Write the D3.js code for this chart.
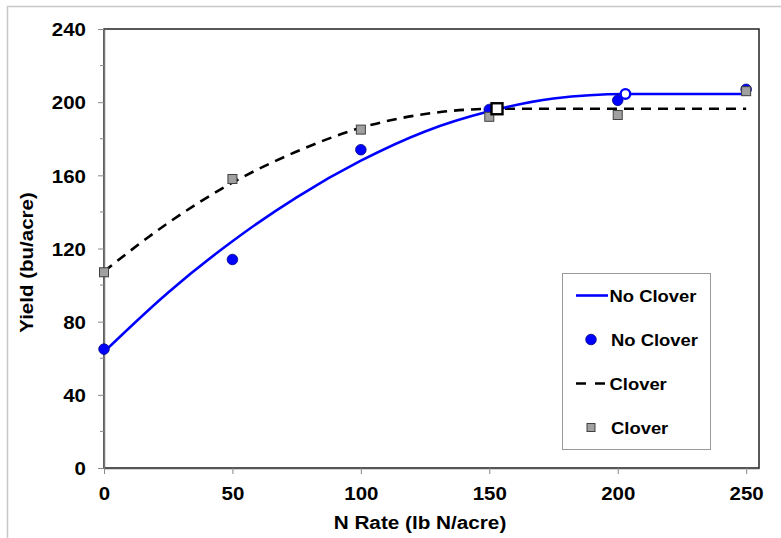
<!DOCTYPE html>
<meta charset="utf-8">
<style>
body { margin: 0; background: #fff; }
text { font-family: "Liberation Sans", Arial, sans-serif; font-weight: bold; fill: #000; }
</style>
<body>
<script src="https://d3js.org/d3.v7.min.js"></script>
<script>

// measured points
var nRates = [0, 50, 100, 150, 200, 250];
var noCloverYield = [65, 114, 174, 196, 201, 207];
var cloverYield = [107, 158, 185, 192, 193, 206];

// fitted curves
var noCloverCurveN = [0, 25, 50, 75, 100, 125, 150, 175, 203, 225, 250];
var noCloverCurveY = [63.5, 96, 124, 148, 168, 184, 195, 202, 204.5, 204.5, 204.5];
var cloverCurveN = [0, 25, 50, 75, 100, 125, 153, 200, 250];
var cloverCurveY = [107.5, 134, 156, 173, 186, 193.5, 196.4, 196.4, 196.4];

// join points (open markers)
var noCloverJoin = [203, 204.5];
var cloverJoin = [153, 196.4];

var xTicks = [0, 50, 100, 150, 200, 250];
var yTicks = [0, 40, 80, 120, 160, 200, 240];
var yMinor = [20, 60, 100, 140, 180, 220];

var legendLabels = ["No Clover", "No Clover", "Clover", "Clover"];

var W = 781, H = 538;
var plot = {left: 104, right: 759, top: 29, bottom: 468};

var svg = d3.select("body").append("svg")
	.attr("width", W)
	.attr("height", H);

// outer chart border
svg.append("rect")
	.attr("x", 7.5).attr("y", 6.5)
	.attr("width", W).attr("height", H)
	.attr("fill", "#fff")
	.attr("stroke", "#c8c8c8")
	.attr("stroke-width", 1.5);

var x = d3.scaleLinear().domain([0, 255]).range([plot.left, plot.right]);
var y = d3.scaleLinear().domain([0, 240]).range([plot.bottom, plot.top]);

// plot frame
svg.append("rect")
	.attr("x", plot.left).attr("y", plot.top)
	.attr("width", plot.right - plot.left)
	.attr("height", plot.bottom - plot.top)
	.attr("fill", "none")
	.attr("stroke", "#222")
	.attr("stroke-width", 1.5);

function stretchText(sel, sx) {
	sel.each(function() {
		var t = d3.select(this);
		var tx = +t.attr("data-x"), ty = +t.attr("data-y");
		t.attr("transform", "translate(" + tx + "," + ty + ") scale(" + sx + ",1)");
	});
}

// y axis
var yAxis = svg.append("g")
	.attr("transform", "translate(" + plot.left + ",0)")
	.call(d3.axisLeft(y).tickValues(yTicks).tickSize(6).tickSizeOuter(0));
yAxis.select(".domain").attr("stroke", "#777").attr("stroke-width", 1.5);
yAxis.selectAll(".tick line").attr("stroke", "#888");
yAxis.selectAll(".tick text")
	.attr("x", null).attr("dy", null)
	.attr("data-x", -18).attr("data-y", 6.7)
	.style("font-size", "18.6px")
	.call(stretchText, 1.1);

svg.append("g").selectAll("line")
	.data(yMinor)
	.enter().append("line")
		.attr("x1", plot.left - 4).attr("x2", plot.left)
		.attr("y1", function(d) { return y(d); })
		.attr("y2", function(d) { return y(d); })
		.attr("stroke", "#888");

// x axis
var xAxis = svg.append("g")
	.attr("transform", "translate(0," + plot.bottom + ")")
	.call(d3.axisBottom(x).tickValues(xTicks).tickSize(6).tickSizeOuter(0));
xAxis.select(".domain").attr("stroke", "#555").attr("stroke-width", 1.5);
xAxis.selectAll(".tick line").attr("stroke", "#888");
xAxis.selectAll(".tick text")
	.attr("y", null).attr("dy", null)
	.attr("data-x", 0).attr("data-y", 32)
	.attr("text-anchor", "middle")
	.style("font-size", "18.6px")
	.call(stretchText, 1.1);

// axis titles
svg.append("text")
	.attr("data-x", 420).attr("data-y", 529)
	.attr("text-anchor", "middle")
	.style("font-size", "18.5px")
	.text("N Rate (lb N/acre)")
	.call(stretchText, 1.12);

svg.append("text")
	.attr("transform", "translate(32.5,262.5) rotate(-90) scale(1.08,1)")
	.attr("text-anchor", "middle")
	.style("font-size", "19px")
	.text("Yield (bu/acre)");

// curves
var line = d3.line()
	.x(function(d) { return x(d[0]); })
	.y(function(d) { return y(d[1]); })
	.curve(d3.curveMonotoneX);

var cloverCurve = d3.zip(cloverCurveN, cloverCurveY);
var noCloverCurve = d3.zip(noCloverCurveN, noCloverCurveY);

svg.append("path")
	.attr("d", line(cloverCurve))
	.attr("fill", "none")
	.attr("stroke", "#000")
	.attr("stroke-width", 2.6)
	.attr("stroke-dasharray", "10,7");

svg.append("path")
	.attr("d", line(noCloverCurve))
	.attr("fill", "none")
	.attr("stroke", "#0000ff")
	.attr("stroke-width", 2.6);

// points
svg.append("g").selectAll("circle")
	.data(d3.zip(nRates, noCloverYield))
	.enter().append("circle")
		.attr("cx", function(d) { return x(d[0]); })
		.attr("cy", function(d) { return y(d[1]); })
		.attr("r", 5.3)
		.attr("fill", "#0000ff")
		.attr("stroke", "#000080")
		.attr("stroke-width", 0.8);

svg.append("g").selectAll("rect")
	.data(d3.zip(nRates, cloverYield))
	.enter().append("rect")
		.attr("x", function(d) { return x(d[0]) - 4.5; })
		.attr("y", function(d) { return y(d[1]) - 4.5; })
		.attr("width", 9).attr("height", 9)
		.attr("fill", "#a0a0a0")
		.attr("stroke", "#404040")
		.attr("stroke-width", 1);

// open join markers
svg.append("circle")
	.attr("cx", x(noCloverJoin[0]))
	.attr("cy", y(noCloverJoin[1]))
	.attr("r", 4.8)
	.attr("fill", "#fff")
	.attr("stroke", "#0000ff")
	.attr("stroke-width", 2.4);

svg.append("rect")
	.attr("x", x(cloverJoin[0]) - 5.5)
	.attr("y", y(cloverJoin[1]) - 5.5)
	.attr("width", 11).attr("height", 11)
	.attr("fill", "#fff")
	.attr("stroke", "#000")
	.attr("stroke-width", 2.4);

// legend
var lg = svg.append("g");
lg.append("rect")
	.attr("x", 562.5).attr("y", 273.5)
	.attr("width", 148).attr("height", 176)
	.attr("fill", "#fff")
	.attr("stroke", "#999")
	.attr("stroke-width", 1);

var rowY = [295.5, 339.5, 383.5, 427.5];

lg.append("line")
	.attr("x1", 576).attr("x2", 608)
	.attr("y1", rowY[0]).attr("y2", rowY[0])
	.attr("stroke", "#0000ff").attr("stroke-width", 2.6);
lg.append("circle")
	.attr("cx", 591).attr("cy", rowY[1]).attr("r", 5.3)
	.attr("fill", "#0000ff").attr("stroke", "#000080").attr("stroke-width", 0.8);
lg.append("line")
	.attr("x1", 576).attr("x2", 606)
	.attr("y1", rowY[2]).attr("y2", rowY[2])
	.attr("stroke", "#000").attr("stroke-width", 2.6)
	.attr("stroke-dasharray", "10,9");
lg.append("rect")
	.attr("x", 587).attr("y", rowY[3] - 4)
	.attr("width", 8).attr("height", 8)
	.attr("fill", "#a0a0a0").attr("stroke", "#404040").attr("stroke-width", 1);

lg.selectAll("text.lbl")
	.data(legendLabels)
	.enter().append("text")
		.attr("class", "lbl")
		.attr("data-x", function(d, i) { return i == 0 || i == 2 ? 609.5 : 611; })
		.attr("data-y", function(d, i) { return rowY[i] + 6; })
		.style("font-size", "16.3px")
		.text(function(d) { return d; })
		.call(stretchText, 1.13);

</script>
</body>
